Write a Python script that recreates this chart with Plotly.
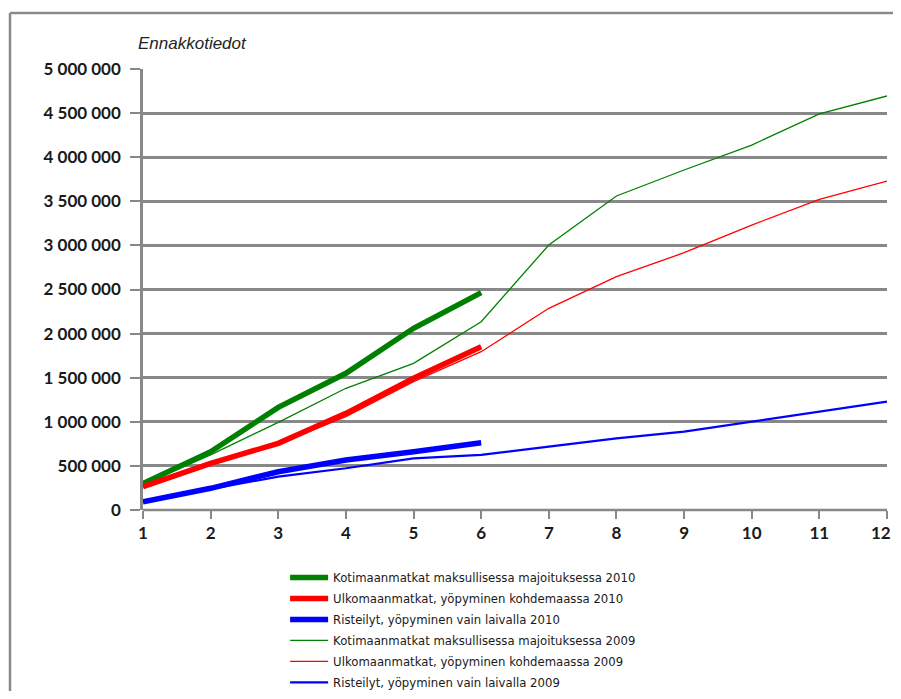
import plotly.graph_objects as go

months = [1, 2, 3, 4, 5, 6, 7, 8, 9, 10, 11, 12]
month_labels = ["1", "2", "3", "4", "5", "6", "7", "8", "9", "10", "11", "12\u00a0\u00a0\u00a0"]
months_2010 = [1, 2, 3, 4, 5, 6]

koti_2010 = [300000, 661000, 1164000, 1550000, 2060000, 2464000]
ulko_2010 = [264000, 529000, 756000, 1096000, 1493000, 1852000]
rist_2010 = [94000, 246000, 434000, 567000, 661000, 763000]

koti_2009 = [290000, 624000, 994000, 1380000, 1663000, 2135000, 3005000, 3560000, 3855000, 4138000, 4490000, 4694000]
ulko_2009 = [260000, 520000, 750000, 1058000, 1455000, 1795000, 2287000, 2645000, 2917000, 3231000, 3523000, 3730000]
rist_2009 = [90000, 240000, 378000, 473000, 586000, 624000, 718000, 813000, 888000, 1001000, 1115000, 1228000]

names_2010 = ["Kotimaanmatkat maksullisessa majoituksessa 2010",
              "Ulkomaanmatkat, yöpyminen kohdemaassa 2010",
              "Risteilyt, yöpyminen vain laivalla 2010"]
names_2009 = ["Kotimaanmatkat maksullisessa majoituksessa 2009",
              "Ulkomaanmatkat, yöpyminen kohdemaassa 2009",
              "Risteilyt, yöpyminen vain laivalla 2009"]

y_tickvals = [0, 500000, 1000000, 1500000, 2000000, 2500000, 3000000, 3500000, 4000000, 4500000, 5000000]
y_ticktext = ["0", "500 000", "1 000 000", "1 500 000", "2 000 000", "2 500 000",
              "3 000 000", "3 500 000", "4 000 000", "4 500 000", "5 000 000"]

colors = ["#008000", "#ff0000", "#0000ff"]

fig = go.Figure()

series_2009 = [koti_2009, ulko_2009, rist_2009]
widths_2009 = [1.3, 1.3, 2.2]
for i, (vals, name) in enumerate(zip(series_2009, names_2009)):
    fig.add_trace(go.Scatter(x=months, y=vals, name=name, mode="lines",
                             line=dict(color=colors[i], width=widths_2009[i]),
                             legendrank=10 + i, legendgroup="g09_%d" % i))

series_2010 = [koti_2010, ulko_2010, rist_2010]
for i, (vals, name) in enumerate(zip(series_2010, names_2010)):
    fig.add_trace(go.Scatter(x=months_2010, y=vals, name=name, mode="lines",
                             line=dict(color=colors[i], width=5.5),
                             legendrank=1 + i, legendgroup="g10_%d" % i))

grid_color = "#888888"
tick_font = dict(family="Lato, Liberation Sans, sans-serif", size=17, color="#1a1a1a", weight="bold")

# figure sits 8px inside the page (body margin)
W, H = 893, 683
plot_l, plot_r, plot_t, plot_b = 135, 879, 61, 502
pw, ph = plot_r - plot_l, plot_b - plot_t

fig.update_layout(
    width=W, height=H,
    margin=dict(l=plot_l, r=W - plot_r, t=plot_t, b=H - plot_b, autoexpand=False),
    paper_bgcolor="white", plot_bgcolor="white",
    font=dict(family="Lato, Liberation Sans, sans-serif", size=13, color="#1a1a1a"),
    showlegend=True,
    legend=dict(x=0.191, y=-0.12, xanchor="left", yanchor="top",
                font=dict(family="DejaVu Sans, sans-serif", size=11.7, color="#1a1a1a"),
                bgcolor="rgba(0,0,0,0)", traceorder="grouped", tracegroupgap=2,
                itemwidth=38),
    xaxis=dict(range=[1, 12], tickvals=months, ticktext=month_labels,
               showgrid=False, zeroline=False, showline=False,
               ticks="outside", ticklen=8, tickwidth=2, tickcolor=grid_color,
               tickfont=tick_font, ticklabeloverflow="allow"),
    yaxis=dict(range=[0, 5000000], tickvals=y_tickvals, ticktext=y_ticktext,
               showgrid=True, gridcolor=grid_color, gridwidth=2.5,
               zeroline=False, showline=True, linecolor=grid_color, linewidth=2.5,
               ticks="outside", ticklen=10, tickwidth=2, tickcolor=grid_color,
               tickfont=tick_font, ticklabelstandoff=6),
)

fig.add_shape(type="line", xref="paper", yref="paper", x0=0, x1=1, y0=0, y1=0,
              line=dict(color=grid_color, width=2.5), layer="below")

# outer chart frame (left and top edges; the rest lies outside the view)
fx0 = (2 - plot_l) / pw
fy1 = (plot_b - 5) / ph
fx1 = (W - plot_l) / pw
fy0 = (plot_b - H) / ph
fig.add_shape(type="line", xref="paper", yref="paper", x0=fx0, x1=fx0, y0=fy0, y1=fy1,
              line=dict(color="#8a8a8a", width=2.5), layer="below")
fig.add_shape(type="line", xref="paper", yref="paper", x0=fx0, x1=fx1, y0=fy1, y1=fy1,
              line=dict(color="#8a8a8a", width=2.5), layer="below")

fig.add_annotation(text="<i>Ennakkotiedot</i>", xref="paper", yref="paper",
                   x=-0.01, y=1.057, xanchor="left", yanchor="middle", showarrow=False,
                   font=dict(family="Liberation Sans, Arial, sans-serif", size=17, color="#222222"))

fig.write_html("out.html")
